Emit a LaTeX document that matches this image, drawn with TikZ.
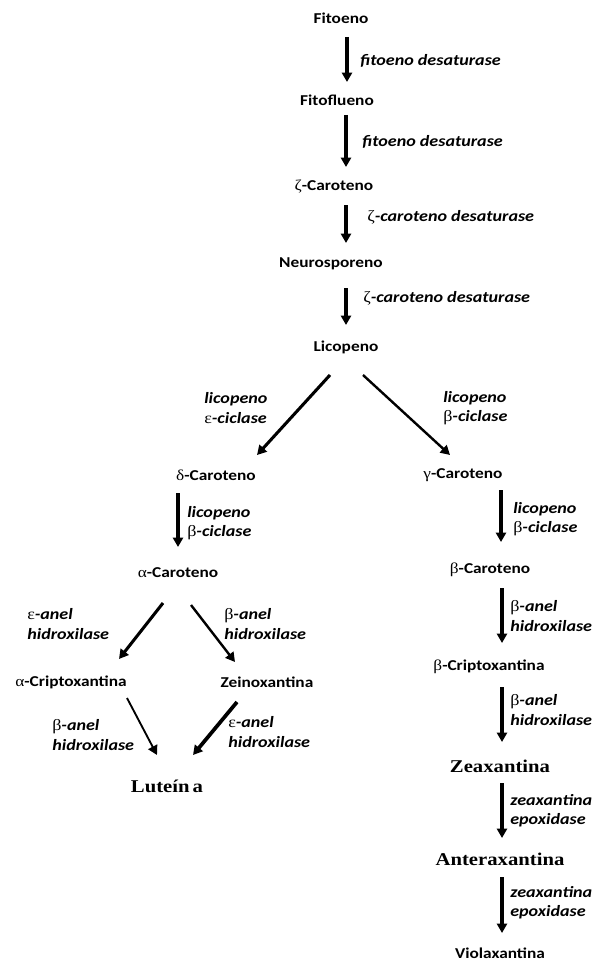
\documentclass[tikz,border=0pt]{standalone}
\usepackage{fontspec}
\setmainfont{Carlito}[FakeStretch=1.15]
\newfontfamily\grk{Liberation Serif}[FakeStretch=1.15]
\newfontfamily\tms{Liberation Serif}[FakeStretch=1.15]
\usetikzlibrary{arrows.meta}
\newcommand{\gk}[1]{{\grk\mdseries\upshape #1}}
\begin{document}
\begin{tikzpicture}[x=0.75pt,y=-0.75pt,
 cmp/.style={font=\fontsize{11.3}{13}\selectfont\bfseries, inner sep=0pt},
 tcmp/.style={font=\tms\fontsize{13.5}{15}\selectfont\bfseries, inner sep=0pt},
 lab/.style={font=\fontsize{11.8}{14.5}\selectfont\bfseries\itshape, align=left, anchor=west, inner sep=0pt},
 arr/.style={line width=2.3pt, -{Triangle[length=7pt,width=7.5pt]}},
 arrm/.style={line width=1.8pt, -{Triangle[length=7pt,width=7.5pt]}},
 arrt/.style={line width=1.4pt, -{Triangle[length=7pt,width=7.5pt]}},
]
\useasboundingbox (0,0) rectangle (592,963);
% compounds
\node[cmp] (fit) at (341,18) {Fitoeno};
\node[cmp] (flu) at (337,100) {Fitoflueno};
\node[cmp] (zeta) at (334,187) {\gk{ζ}-Caroteno};
\node[cmp] (neu) at (331,264) {Neurosporeno};
\node[cmp] (lic) at (346,347) {Licopeno};
\node[cmp] (delta) at (216,475) {\gk{δ}-Caroteno};
\node[cmp] (gamma) at (463,475) {\gk{γ}-Caroteno};
\node[cmp] (alpha) at (178,573) {\gk{α}-Caroteno};
\node[cmp] (betac) at (490,570) {\gk{β}-Caroteno};
\node[cmp] (acrip) at (71,682) {\gk{α}-Criptoxantina};
\node[cmp] (zein) at (267,682) {Zeinoxantina};
\node[cmp] (bcrip) at (489,667) {\gk{β}-Criptoxantina};
\node[tcmp] (lut) at (167,786) {Luteín\,a};
\node[tcmp] (zea) at (500,766) {Zeaxantina};
\node[tcmp] (ant) at (500,859) {Anteraxantina};
\node[cmp] (vio) at (500,953) {Violaxantina};
% arrows
\draw[arr] ([shift={(6,19)}]fit.center) -- ([shift={(10,-18)}]flu.center);
\draw[arr] ([shift={(9,15)}]flu.center) -- ([shift={(12,-20)}]zeta.center);
\draw[arr] ([shift={(12,18)}]zeta.center) -- ([shift={(15,-21)}]neu.center);
\draw[arr] ([shift={(15,24)}]neu.center) -- ([shift={(0,-22)}]lic.center);
\draw[arr] ([shift={(-16,28)}]lic.center) -- ([shift={(41,-20)}]delta.center);
\draw[arrm] ([shift={(17,28)}]lic.center) -- ([shift={(-13,-20)}]gamma.center);
\draw[arr] ([shift={(-38,18)}]delta.center) -- ([shift={(0,-26)}]alpha.center);
\draw[arr] ([shift={(38,15)}]gamma.center) -- ([shift={(11,-28)}]betac.center);
\draw[arr] ([shift={(-15,30)}]alpha.center) -- ([shift={(48,-23)}]acrip.center);
\draw[arrm] ([shift={(13,32)}]alpha.center) -- ([shift={(-32,-20)}]zein.center);
\draw[arr] ([shift={(12,18)}]betac.center) -- ([shift={(13,-24)}]bcrip.center);
\draw[arr] ([shift={(13,20)}]bcrip.center) -- ([shift={(2,-24)}]zea.center);
\draw[arrt] ([shift={(56,16)}]acrip.center) -- ([shift={(-10,-31)}]lut.center);
\draw[line width=2.8pt, -{Triangle[length=7pt,width=7.5pt]}] ([shift={(-30,20)}]zein.center) -- ([shift={(26,-31)}]lut.center);
\draw[arr] ([shift={(2,17)}]zea.center) -- ([shift={(2,-21)}]ant.center);
\draw[arr] ([shift={(2,18)}]ant.center) -- ([shift={(2,-20)}]vio.center);
% enzyme labels
\node[lab] (e1) at (360,61) {fitoeno desaturase};
\node[lab] (e2) at (362,142) {fitoeno desaturase};
\node[lab] (e3) at (367,217) {\gk{ζ}-caroteno desaturase};
\node[lab] (e4) at (363,298) {\gk{ζ}-caroteno desaturase};
\node[lab] (e5) at (204,408) {licopeno\\\gk{ε}-ciclase};
\node[lab] (e6) at (443,408) {licopeno\\\gk{β}-ciclase};
\node[lab] (e7) at (187,523) {licopeno\\\gk{β}-ciclase};
\node[lab] (e8) at (513,519) {licopeno\\\gk{β}-ciclase};
\node[lab] (e9) at (27,624) {\gk{ε}-anel\\hidroxilase};
\node[lab] (e10) at (224,624) {\gk{β}-anel\\hidroxilase};
\node[lab] (e11) at (510,616) {\gk{β}-anel\\hidroxilase};
\node[lab] (e12) at (510,710) {\gk{β}-anel\\hidroxilase};
\node[lab] (e13) at (52,735) {\gk{β}-anel\\hidroxilase};
\node[lab] (e14) at (228,732) {\gk{ε}-anel\\hidroxilase};
\node[lab] (e15) at (510,811) {zeaxantina\\epoxidase};
\node[lab] (e16) at (510,903) {zeaxantina\\epoxidase};
\end{tikzpicture}
\end{document}
